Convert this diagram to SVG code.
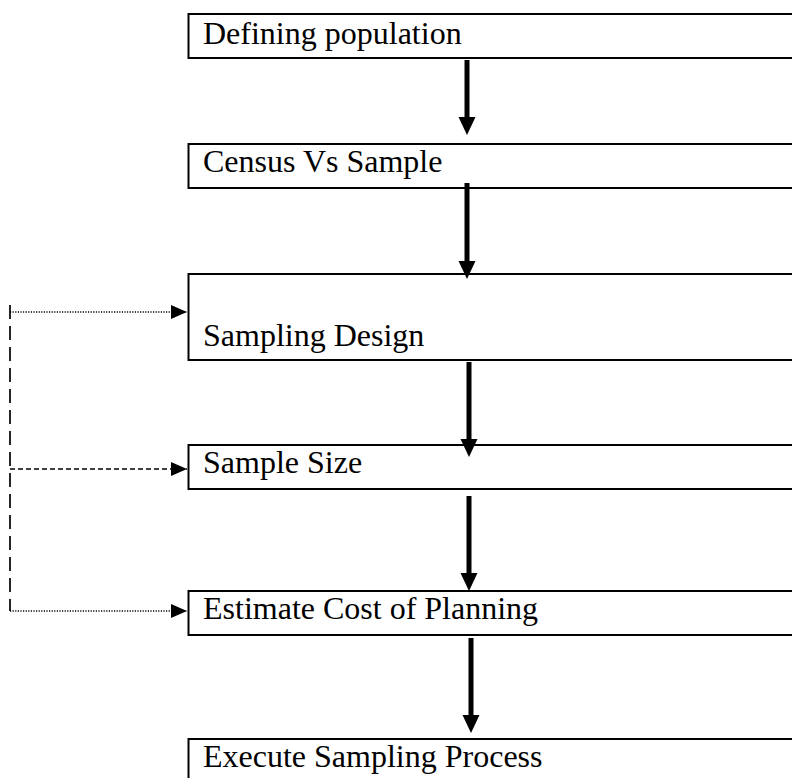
<svg xmlns="http://www.w3.org/2000/svg" width="792" height="778" viewBox="0 0 792 778">
<defs>
<style>
.box{fill:#fff;stroke:#000;stroke-width:2}
.lbl{font-family:"Liberation Serif","Times New Roman",serif;font-size:32px;fill:#000}
.shaft{stroke:#000;stroke-width:5;fill:none}
.head{fill:#000}
.dot{stroke:#000;stroke-width:1.5;stroke-dasharray:1.2 1.4;fill:none}
.dash{stroke:#000;stroke-width:1.5;stroke-dasharray:5 3;fill:none}
.ldash{stroke:#000;stroke-width:1.7;stroke-dasharray:14 7;fill:none}
</style>
<marker id="sm" markerWidth="16" markerHeight="14" refX="16" refY="7" orient="auto" markerUnits="userSpaceOnUse">
<path d="M0,0 L16,7 L0,14 Z" fill="#000"/>
</marker>
</defs>
<rect width="792" height="778" fill="#fff"/>
<g id="n1"><rect class="box" x="188.5" y="14" width="620" height="44"/><text class="lbl" x="203" y="44">Defining population</text></g>
<g id="n2"><rect class="box" x="188.5" y="144" width="620" height="44"/><text class="lbl" x="203" y="172">Census Vs Sample</text></g>
<g id="n3"><rect class="box" x="188.5" y="274" width="620" height="86"/><text class="lbl" x="203" y="346">Sampling Design</text></g>
<g id="n4"><rect class="box" x="188.5" y="445" width="620" height="44"/><text class="lbl" x="203" y="473">Sample Size</text></g>
<g id="n5"><rect class="box" x="188.5" y="591" width="620" height="44"/><text class="lbl" x="203" y="619">Estimate Cost of Planning</text></g>
<g id="n6"><rect class="box" x="188.5" y="739" width="620" height="50"/><text class="lbl" x="203" y="767">Execute Sampling Process</text></g>
<g id="connectors">
<line class="shaft" x1="467" y1="60" x2="467" y2="118"/><path class="head" d="M458.5,117 L475.5,117 L467,135 Z"/>
<line class="shaft" x1="467" y1="183" x2="467" y2="263"/><path class="head" d="M458.5,261 L475.5,261 L467,279 Z"/>
<line class="shaft" x1="469" y1="362" x2="469" y2="440"/><path class="head" d="M460.5,439 L477.5,439 L469,457 Z"/>
<line class="shaft" x1="469" y1="496" x2="469" y2="574"/><path class="head" d="M460.5,573 L477.5,573 L469,591 Z"/>
<line class="shaft" x1="471" y1="638" x2="471" y2="716"/><path class="head" d="M462.5,715 L479.5,715 L471,733 Z"/>
<line class="ldash" x1="10" y1="305" x2="10" y2="611"/>
<line class="dot" x1="10" y1="312" x2="187" y2="312" marker-end="url(#sm)"/>
<line class="dash" x1="10" y1="469" x2="187" y2="469" marker-end="url(#sm)"/>
<line class="dot" x1="10" y1="611" x2="187" y2="611" marker-end="url(#sm)"/>
</g>
</svg>
